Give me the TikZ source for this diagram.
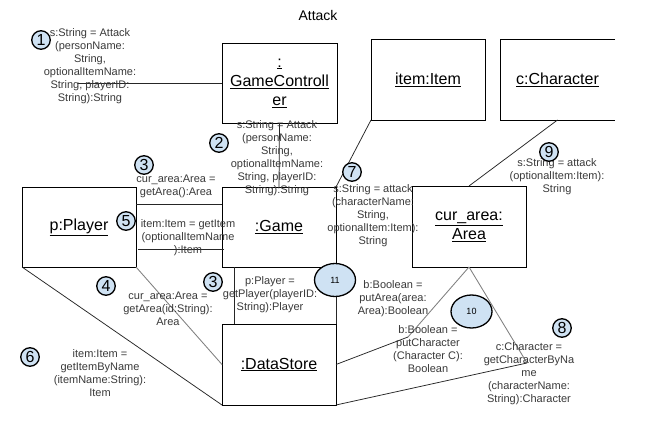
\documentclass[tikz,border=0pt]{standalone}
\usepackage{fontspec}
\setmainfont{Liberation Sans}
\usetikzlibrary{shapes.geometric}
\definecolor{numfill}{HTML}{CFE2F3}
\definecolor{lbl}{HTML}{3A3A3A}
\tikzset{
  objbox/.style={draw=black, line width=0.8pt, minimum width=114pt, minimum height=80pt, inner sep=0pt, outer sep=0pt, align=center, font=\fontsize{16}{19}\selectfont},
  msg/.style={align=center, text=lbl, inner sep=0pt, font=\fontsize{11}{13}\selectfont},
  num/.style={circle, draw=black, line width=1.3pt, fill=numfill, minimum size=18.5pt, inner sep=0pt, font=\fontsize{16}{16}\selectfont},
  bignum/.style={ellipse, draw=black, line width=1.3pt, fill=numfill, minimum width=41pt, minimum height=33pt, inner sep=0pt, font=\fontsize{9}{9}\selectfont},
  link/.style={draw=black!85, line width=0.75pt},
  glink/.style={draw=black!50, line width=0.85pt}
}
\begin{document}
\begin{tikzpicture}[x=1pt,y=-1pt]
\useasboundingbox (0,0) rectangle (654,434);
\fill[white] (0,0) rectangle (654,434);

\node[font=\fontsize{14}{14}\selectfont] (title) at (318,15) {Attack};

% boxes
\node[objbox, minimum width=115pt] (gc) at (279.5,83) {\underline{:}\\\underline{GameControll}\\\underline{er}};
\node[objbox, minimum height=81pt] (item) at (428,79.5) {\underline{item:Item}};
\node[objbox, draw=none, minimum width=115pt, minimum height=81pt] (ch) at (557.5,79.5) {\underline{c:Character}};
\draw[black, line width=0.8pt] (ch.north east) -- (ch.north west) -- (ch.south west) -- (ch.south east);
\node[objbox, minimum height=81pt] (cur) at (469,226.5) {\underline{cur\_area:}\\\underline{Area}};
\node[objbox] (player) at (79,227) {\underline{p:Player}};
\node[objbox] (game) at (279,227) {\underline{:Game}};
\node[objbox, minimum height=81pt] (ds) at (279,364.5) {\underline{:DataStore}};

% connectors
\coordinate (start) at (78,83);
\coordinate (bendA) at (408,337);
\coordinate (bendB) at (527,363);
\draw[link] (start) -- (gc.west);
\draw[link] (gc.south) -- (game.north);
\draw[link] ([yshift=23pt]player.east) -- ([yshift=23pt]game.west);
\draw[link] ([yshift=-22pt,xshift=2pt]player.east) -- ([yshift=-22pt,xshift=2pt]game.west);
\draw[link] ([xshift=12pt]game.south west) -- ([xshift=12pt]ds.north west);
\draw[link] (game.south east) -- (ds.north east);
\draw[link] (player.south west) -- (ds.south west);
\draw[glink] (player.south east) -- (ds.west);
\draw[link] (item.south west) -- (game.north east);
\draw[link] (ch.south) -- (cur.north);
\draw[link] (ds.east) -- (bendA);
\draw[glink] (bendA) -- (cur.south);
\draw[link] (ds.south east) -- (bendB);
\draw[glink] (bendB) -- (cur.south);

% message labels
\node[msg] (m1) at (90,66) {s:String = Attack\\(personName:\\String,\\optionalItemName:\\String, playerID:\\String):String};
\node[msg] (m2) at (277,158.5) {s:String = Attack\\(personName:\\String,\\optionalItemName:\\String, playerID:\\String):String};
\node[msg] (m3a) at (176,186.5) {cur\_area:Area =\\getArea():Area};
\node[msg] (m5) at (188,238) {item:Item = getItem\\(optionalItemName\\):Item};
\node[msg] (m4) at (168,309) {cur\_area:Area =\\getArea(id:String):\\Area};
\node[msg] (m3b) at (270,295) {p:Player =\\getPlayer(playerID:\\String):Player};
\node[msg] (m6) at (100,373) {item:Item =\\getItemByName\\(itemName:String):\\Item};
\node[msg] (m7) at (373,216) {s:String = attack\\(characterName:\\String,\\optionalItem:Item):\\String};
\node[msg] (m9) at (557,177) {s:String = attack\\(optionalItem:Item):\\String};
\node[msg] (mb1) at (393,299) {b:Boolean =\\putArea(area:\\Area):Boolean};
\node[msg] (mb2) at (428,349.5) {b:Boolean =\\putCharacter\\(Character C):\\Boolean};
\node[msg] (m8) at (529,374) {c:Character =\\getCharacterByNa\\me\\(characterName:\\String):Character};

% sequence numbers
\node[num] (n1) at (41,40) {1};
\node[num] (n2) at (219,143) {2};
\node[num] (n3a) at (144,165) {3};
\node[num] (n5) at (126,221) {5};
\node[num] (n4) at (106,286) {4};
\node[num] (n3b) at (213,282) {3};
\node[num] (n6) at (30,357) {6};
\node[num] (n7) at (352,172) {7};
\node[num] (n9) at (549,152) {9};
\node[num] (n8) at (562,328) {8};
\node[bignum] (n11) at (335,280) {11};
\node[bignum] (n10) at (471.5,311.5) {10};
\end{tikzpicture}
\end{document}
